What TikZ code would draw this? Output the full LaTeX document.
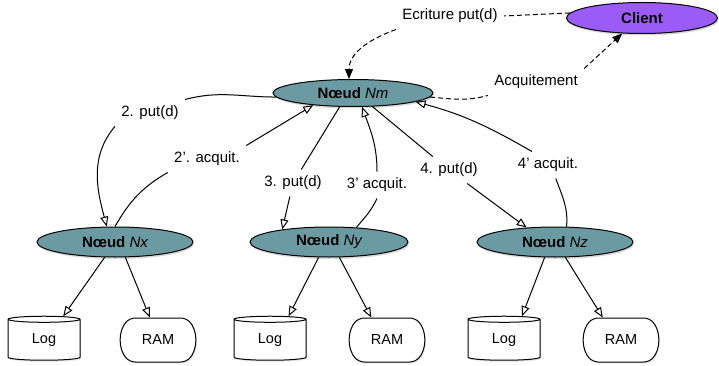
\documentclass[tikz,border=0pt]{standalone}
\usepackage{fontspec}
\setmainfont{Liberation Sans}
\usepackage{tikz}
\usetikzlibrary{arrows.meta,shapes.geometric,shapes.misc,shadows}
\definecolor{noeudfill}{RGB}{108,154,163}
\definecolor{clientfill}{RGB}{155,92,246}
\tikzset{
  noeud/.style={ellipse, draw, fill=noeudfill, minimum width=156pt, minimum height=30pt, inner sep=0pt, font=\fontsize{15}{18}\selectfont\bfseries, drop shadow={shadow xshift=1pt, shadow yshift=-2pt, opacity=0.3}},
  lbl/.style={inner sep=6pt},
  put/.style={-{Triangle[open,length=10pt,width=8pt]}},
  ecr/.style={dash pattern=on 5pt off 3pt},
  ecrarrow/.style={ecr, -{Triangle[length=10pt,width=8pt]}},
  logbox/.style={cylinder, shape border rotate=90, draw, fill=white, shape aspect=0.25, minimum width=72pt, minimum height=44pt, inner sep=0pt, font=\fontsize{14.5}{17}\selectfont, drop shadow={shadow xshift=1pt, shadow yshift=-1.5pt, opacity=0.2}},
  rambox/.style={rounded rectangle, rounded rectangle arc length=90, rounded corners=5pt, draw, fill=white, minimum width=74pt, minimum height=44pt, inner sep=0pt, font=\fontsize{14.5}{17}\selectfont, drop shadow={shadow xshift=1pt, shadow yshift=-1.5pt, opacity=0.2}},
}
\begin{document}
\begin{tikzpicture}[x=1pt, y=-1pt, line width=1pt, font=\fontsize{15}{18}\selectfont]
  \useasboundingbox (0,0) rectangle (719,366);
  \node[noeud, fill=clientfill, minimum width=151pt, minimum height=31pt] (Client) at (642,18) {Client};
  \node[noeud, minimum width=160pt, minimum height=27pt] (Nm) at (353,93) {Nœud {\mdseries\itshape Nm}};
  \node[noeud] (Nx) at (115,242) {Nœud {\mdseries\itshape Nx}};
  \node[noeud, minimum width=158pt] (Ny) at (329,242) {Nœud {\mdseries\itshape Ny}};
  \node[noeud] (Nz) at (555,242) {Nœud {\mdseries\itshape Nz}};

  \node[lbl] (le) at (450,16) {Ecriture put(d)};
  \node[lbl] (la) at (536,82) {Acquitement};
  \node[lbl] (l2) at (150,113) {2. put(d)};
  \node[lbl] (l2p) at (207,159) {2’. acquit.};
  \node[lbl] (l3) at (293,183) {3. put(d)};
  \node[lbl] (l3p) at (377,185) {3’ acquit.};
  \node[lbl] (l4) at (449,170) {4. put(d)};
  \node[lbl] (l4p) at (548,165) {4’ acquit.};

  % client <-> Nm
  \draw[ecr] (Client.176) -- (le.east);
  \draw[ecrarrow] (le.south west) to[out=200,in=90] (Nm.106);
  \draw[ecr] (Nm.-3) to[out=-5,in=195] (la.south west);
  \draw[ecrarrow] (la.north east) -- (Client.218);

  % Nm <-> replicas
  \draw (Nm.183) to[out=180,in=15] (l2.north east);
  \draw[put] (l2.south west) to[out=-130,in=105] (Nx.118);
  \draw (Nx.north) to[out=60,in=210] (l2p.south west);
  \draw[put] (l2p.north east) -- (Nm.197);
  \draw (Nm.226) -- (l3);
  \draw[put] (l3) -- (Ny.165);
  \draw (Ny.28) to[out=50,in=-115] (l3p.south);
  \draw[put] (l3p.north) to[out=90,in=-70] (Nm.303);
  \draw (Nm.325) -- (l4);
  \draw[put] (l4) -- (Nz.153);
  \draw (Nz.53) to[out=85,in=-70] (l4p.-60);
  \draw[put] (l4p.140) to[out=150,in=-15] (Nm.-8);

  % storage below each replica
  \foreach \n/\lx/\rx/\la/\ra in {x/44/158/51/110, y/270/387/52/125, z/504/621/53/129}{
    \node[logbox] (log\n) at (\lx,340) {Log};
    \node[rambox] (ram\n) at (\rx,340) {RAM};
    \draw[put] (N\n.236) -- (log\n.\la);
    \draw[put] (N\n.304) -- (ram\n.\ra);
  }
\end{tikzpicture}
\end{document}
